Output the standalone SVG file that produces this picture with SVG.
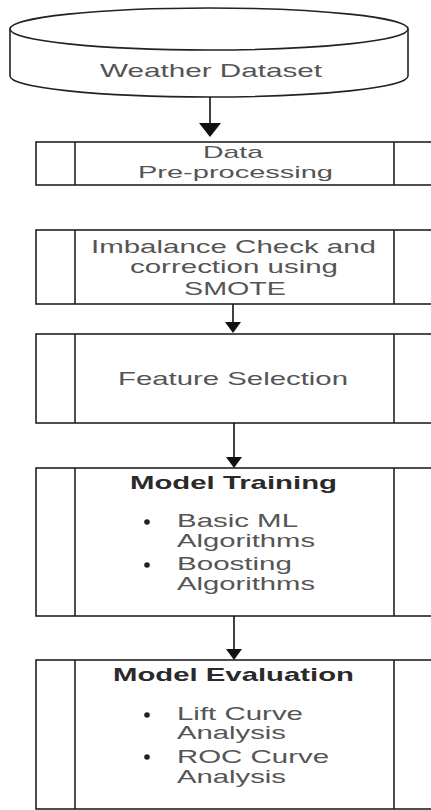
<svg xmlns="http://www.w3.org/2000/svg" width="431" height="810" viewBox="0 0 431 810">
<defs>
<style>
.shape{fill:#fff;stroke:#222;stroke-width:1.6}
.line{fill:none;stroke:#222;stroke-width:1.6}
.t{font-family:"Liberation Sans",Arial,sans-serif;font-size:18.5px;fill:#555}
.s{font-size:17px}
.b{font-family:"Liberation Sans",Arial,sans-serif;font-size:18.5px;font-weight:bold;fill:#2a2a2a}
.c{text-anchor:middle}
.conn{fill:none;stroke:#111;stroke-width:1.6}
</style>
</defs>
<rect width="431" height="810" fill="#fff"/>
<g id="weather-dataset">
<path class="shape" d="M10,29 L10,76 A199,21 0 0 0 408,76 L408,29 A199,21 0 0 0 10,29 Z"/>
<path class="line" d="M10,29 A199,21 0 0 0 408,29"/>
<text class="t c" x="211" y="77" textLength="222" lengthAdjust="spacingAndGlyphs">Weather Dataset</text>
</g>
<g id="data-preprocessing">
<rect class="shape" x="36" y="142" width="398" height="43"/>
<line class="line" x1="75" y1="142" x2="75" y2="185"/>
<line class="line" x1="394" y1="142" x2="394" y2="185"/>
<text class="t s c" x="233" y="157.5" textLength="60" lengthAdjust="spacingAndGlyphs">Data</text>
<text class="t s c" x="235.5" y="177.5" textLength="195" lengthAdjust="spacingAndGlyphs">Pre-processing</text>
</g>
<g id="imbalance">
<rect class="shape" x="36" y="230" width="398" height="74"/>
<line class="line" x1="75" y1="230" x2="75" y2="304"/>
<line class="line" x1="394" y1="230" x2="394" y2="304"/>
<text class="t c" x="233.5" y="253" textLength="285" lengthAdjust="spacingAndGlyphs">Imbalance Check and</text>
<text class="t c" x="234" y="273" textLength="208" lengthAdjust="spacingAndGlyphs">correction using</text>
<text class="t c" x="235" y="295" textLength="102" lengthAdjust="spacingAndGlyphs">SMOTE</text>
</g>
<g id="feature-selection">
<rect class="shape" x="36" y="334" width="398" height="89"/>
<line class="line" x1="75" y1="334" x2="75" y2="423"/>
<line class="line" x1="394" y1="334" x2="394" y2="423"/>
<text class="t c" x="233" y="385" textLength="230" lengthAdjust="spacingAndGlyphs">Feature Selection</text>
</g>
<g id="model-training">
<rect class="shape" x="36" y="468" width="398" height="148"/>
<line class="line" x1="75" y1="468" x2="75" y2="616"/>
<line class="line" x1="394" y1="468" x2="394" y2="616"/>
<text class="b c" x="233.5" y="489" textLength="207" lengthAdjust="spacingAndGlyphs">Model Training</text>
<circle cx="147" cy="522" r="2.8" fill="#222"/>
<circle cx="147" cy="565" r="2.8" fill="#222"/>
<text class="t" x="177" y="527" textLength="121" lengthAdjust="spacingAndGlyphs">Basic ML</text>
<text class="t" x="177" y="547" textLength="138" lengthAdjust="spacingAndGlyphs">Algorithms</text>
<text class="t" x="177" y="570" textLength="115" lengthAdjust="spacingAndGlyphs">Boosting</text>
<text class="t" x="177" y="590" textLength="138" lengthAdjust="spacingAndGlyphs">Algorithms</text>
</g>
<g id="model-evaluation">
<rect class="shape" x="36" y="660" width="398" height="149"/>
<line class="line" x1="75" y1="660" x2="75" y2="809"/>
<line class="line" x1="394" y1="660" x2="394" y2="809"/>
<text class="b c" x="233.5" y="681" textLength="241" lengthAdjust="spacingAndGlyphs">Model Evaluation</text>
<circle cx="147" cy="715" r="2.8" fill="#222"/>
<circle cx="147" cy="757" r="2.8" fill="#222"/>
<text class="t" x="177" y="720" textLength="126" lengthAdjust="spacingAndGlyphs">Lift Curve</text>
<text class="t" x="177" y="739" textLength="109" lengthAdjust="spacingAndGlyphs">Analysis</text>
<text class="t" x="177" y="763" textLength="152" lengthAdjust="spacingAndGlyphs">ROC Curve</text>
<text class="t" x="177" y="783" textLength="109" lengthAdjust="spacingAndGlyphs">Analysis</text>
</g>
<g id="connectors">
<line class="conn" x1="210" y1="97" x2="210" y2="124" stroke-width="2.2"/>
<path d="M199,123 L221,123 L210,137 Z" fill="#111"/>
<line class="conn" x1="233" y1="304" x2="233" y2="323"/>
<path d="M225,322 L241,322 L233,333 Z" fill="#111"/>
<line class="conn" x1="234" y1="423" x2="234" y2="458"/>
<path d="M226,457 L242,457 L234,468 Z" fill="#111"/>
<line class="conn" x1="234" y1="616" x2="234" y2="650"/>
<path d="M226,649 L242,649 L234,660 Z" fill="#111"/>
</g>
</svg>
